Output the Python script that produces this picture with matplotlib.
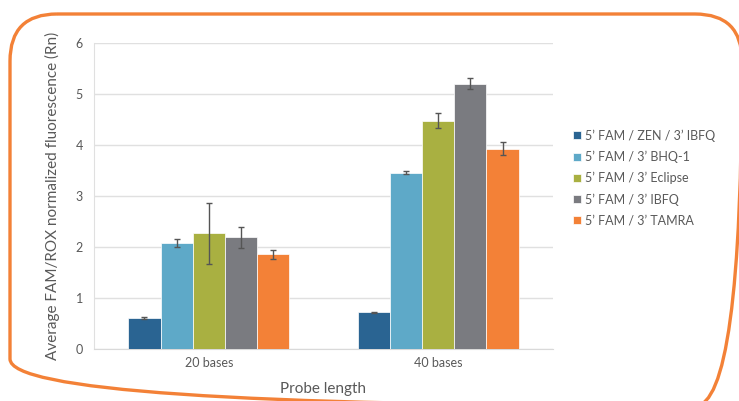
import numpy as np
import matplotlib
matplotlib.use("Agg")
import matplotlib.pyplot as plt
from matplotlib.patches import FancyBboxPatch

plt.rcParams['font.family'] = ['Lato', 'DejaVu Sans']

groups = ["20 bases", "40 bases"]
series = ["5\u2019 FAM / ZEN / 3\u2019 IBFQ", "5\u2019 FAM / 3\u2019 BHQ-1",
          "5\u2019 FAM / 3\u2019 Eclipse", "5\u2019 FAM / 3\u2019 IBFQ",
          "5\u2019 FAM / 3\u2019 TAMRA"]
means = [[0.61, 0.72],
         [2.08, 3.46],
         [2.27, 4.48],
         [2.19, 5.20],
         [1.86, 3.93]]
errs = [[0.02, 0.01],
        [0.08, 0.03],
        [0.60, 0.14],
        [0.21, 0.11],
        [0.09, 0.13]]
colors = ["#2a6492", "#5ea9c8", "#a9b041", "#7a7b80", "#f38137"]
text_col = "#595959"

fig = plt.figure(figsize=(7.39, 4.01), dpi=100)

# rounded orange frame behind everything
bg = fig.add_axes([0, 0, 1, 1])
bg.set_xlim(0, 739)
bg.set_ylim(401, 0)
bg.axis("off")
bg.add_patch(FancyBboxPatch((10, 14), 732, 392,
                            boxstyle="round,pad=0,rounding_size=47",
                            fill=False, ec="#f38137", lw=2.4))

ax = fig.add_axes([94 / 739, 1 - 349 / 401, (553 - 94) / 739, (349 - 43) / 401])
x = np.arange(len(groups))
w = 0.14
for i, name in enumerate(series):
    pos = x + (i - 2) * w
    ax.bar(pos, means[i], w, color=colors[i], edgecolor="white", linewidth=0.5,
           label=name, zorder=3)
    ax.errorbar(pos, means[i], yerr=errs[i], fmt="none", ecolor="#555555",
                elinewidth=1, capsize=2.5, capthick=1, zorder=4)

ax.set_xlim(-0.5, 1.5)
ax.set_ylim(0, 6)
ax.set_yticks(range(7))
ax.set_xticks(x)
ax.set_xticklabels(groups)
ax.grid(axis="y", color="#e0e0e0", lw=1, zorder=0)
for s in ["top", "right"]:
    ax.spines[s].set_visible(False)
ax.spines["left"].set_color("#e0e0e0")
ax.spines["bottom"].set_color("#d9d9d9")
ax.tick_params(axis="both", length=0, colors=text_col, labelsize=9)
ax.tick_params(axis="y", pad=8)
ax.tick_params(axis="x", pad=6)
ax.set_ylabel("Average FAM/ROX normalized fluorescence (Rn)", color=text_col,
              fontsize=11, labelpad=11)
ax.set_xlabel("Probe length", color=text_col, fontsize=11, labelpad=9)

leg = ax.legend(loc="center left", bbox_to_anchor=(1.02, 0.559), frameon=False,
                fontsize=9, handlelength=0.6, handleheight=0.6, handletextpad=0.3,
                labelspacing=0.72)
for t in leg.get_texts():
    t.set_color(text_col)

fig.savefig("out.png", dpi=100)
